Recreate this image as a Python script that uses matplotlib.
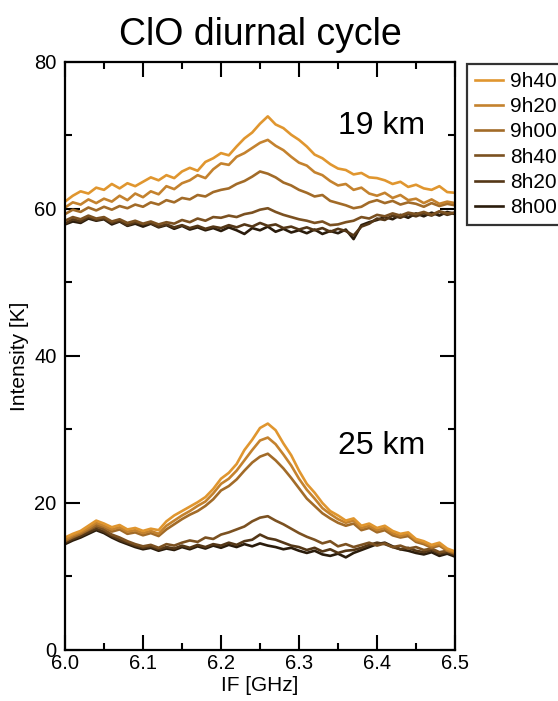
import numpy as np
import matplotlib
matplotlib.use('Agg')
import matplotlib.pyplot as plt
from matplotlib.ticker import MultipleLocator

plt.rcParams['font.family'] = ['Liberation Sans', 'DejaVu Sans']

# IF frequency grid [GHz]
freq = np.round(np.arange(6.0, 6.5001, 0.01), 2)

labels = ['9h40', '9h20', '9h00', '8h40', '8h20', '8h00']
colors = ['#E0962F', '#C4822E', '#A26B28', '#7B5121', '#543717', '#2A1C0C']

# 19 km spectra [K]
t19_0940 = [61.0, 61.8, 62.4, 62.1, 62.9, 62.6, 63.4, 62.8, 63.5, 63.1,
            63.7, 64.3, 63.9, 64.6, 64.2, 65.1, 65.6, 65.2, 66.4, 66.9,
            67.6, 67.3, 68.5, 69.6, 70.4, 71.6, 72.6, 71.5, 71.0, 70.1,
            69.4, 68.5, 67.4, 66.9, 66.1, 65.5, 65.3, 64.7, 64.9, 64.3,
            64.2, 63.9, 63.4, 63.7, 63.0, 63.3, 62.8, 62.6, 63.1, 62.3,
            62.2]
t19_0920 = [60.2, 60.9, 60.6, 61.3, 60.8, 61.4, 61.0, 61.8, 61.2, 62.1,
            61.6, 62.4, 62.0, 63.1, 62.7, 63.5, 63.9, 64.6, 64.2, 65.4,
            66.2, 66.0, 67.1, 67.6, 68.3, 69.0, 69.4, 68.6, 68.0, 67.1,
            66.3, 65.9, 65.0, 64.6, 63.8, 63.2, 63.4, 62.6, 62.9, 62.1,
            61.8, 62.2, 61.5, 61.9, 61.2, 61.4, 60.8, 61.3, 60.7, 61.0,
            60.8]
t19_0900 = [59.3, 59.9, 59.6, 60.2, 59.8, 60.3, 59.9, 60.4, 60.1, 60.6,
            60.3, 60.9, 60.6, 61.2, 60.9, 61.5, 61.3, 61.9, 61.7, 62.3,
            62.6, 62.8, 63.4, 63.8, 64.4, 65.1, 64.8, 64.3, 63.6, 63.2,
            62.6, 62.2, 61.7, 61.9, 61.1, 60.8, 60.5, 60.1, 60.3, 60.9,
            61.2, 60.8, 61.1, 60.6, 60.9, 60.7, 60.3, 60.8, 60.4, 60.7,
            60.5]
t19_0840 = [58.4, 58.9, 58.6, 59.1, 58.7, 58.9, 58.3, 58.6, 58.1, 58.4,
            58.0, 58.3, 57.9, 58.2, 58.0, 58.5, 58.2, 58.7, 58.4, 58.9,
            58.8, 59.1, 58.9, 59.3, 59.5, 59.9, 60.1, 59.6, 59.2, 58.9,
            58.6, 58.4, 58.1, 58.3, 57.8, 57.9, 58.2, 58.4, 58.9, 58.7,
            59.2, 59.0, 59.4, 59.1, 59.5, 59.3, 59.6, 59.2, 59.7, 59.4,
            59.5]
t19_0820 = [58.0, 58.6, 58.3, 58.9, 58.5, 58.7, 58.1, 58.4, 57.8, 58.2,
            57.9, 58.1, 57.6, 57.9, 57.5, 57.8, 57.4, 57.7, 57.3, 57.6,
            57.4, 57.8, 57.5, 57.9, 57.6, 58.1, 57.7, 57.9, 57.4, 57.6,
            57.2, 57.5, 57.1, 57.4, 56.9, 57.3, 57.0, 56.4, 57.6, 58.0,
            58.7, 58.5, 59.1, 58.8, 59.3, 59.0, 59.4, 59.1, 59.6, 59.2,
            59.5]
t19_0800 = [57.9, 58.3, 58.1, 58.7, 58.4, 58.6, 57.9, 58.3, 57.7, 58.0,
            57.6, 58.0, 57.5, 57.8, 57.3, 57.7, 57.2, 57.5, 57.1, 57.4,
            57.0, 57.5, 57.1, 56.6, 57.4, 57.1, 57.6, 56.9, 57.3, 56.8,
            57.1, 56.7, 57.2, 56.6, 57.0, 56.7, 57.2, 55.9, 57.8, 58.2,
            58.5, 58.9, 58.6, 59.2, 58.8, 59.4, 59.0, 59.5, 59.1, 59.6,
            59.3]

# 25 km spectra [K]
t25_0940 = [15.3, 15.8, 16.2, 16.9, 17.6, 17.2, 16.7, 17.0, 16.4, 16.6,
            16.2, 16.5, 16.3, 17.5, 18.3, 18.9, 19.5, 20.1, 20.8, 21.9,
            23.3, 24.1, 25.3, 27.2, 28.6, 30.2, 30.8, 29.9, 28.1, 26.5,
            24.4, 22.6, 21.4, 20.0, 18.9, 18.3, 17.6, 17.9, 16.9, 17.2,
            16.6, 16.9, 16.2, 15.8, 16.0, 15.1, 14.8, 14.3, 14.6, 13.8,
            13.4]
t25_0920 = [15.0, 15.6, 16.0, 16.6, 17.3, 16.9, 16.4, 16.7, 16.1, 16.3,
            15.9, 16.2, 15.8, 16.9, 17.6, 18.3, 18.9, 19.6, 20.2, 21.3,
            22.6, 23.3, 24.4, 25.8, 27.2, 28.5, 28.9, 28.0, 26.6, 25.1,
            23.3, 21.8, 20.6, 19.3, 18.5, 17.8, 17.3, 17.6, 16.6, 16.9,
            16.3, 16.6, 15.9, 15.5, 15.8, 14.9, 14.6, 14.1, 14.4, 13.6,
            13.3]
t25_0900 = [14.8, 15.4, 15.8, 16.4, 17.0, 16.7, 16.1, 16.4, 15.8, 16.0,
            15.6, 15.9, 15.5, 16.4, 17.1, 17.8, 18.4, 18.9, 19.6, 20.5,
            21.7, 22.3, 23.2, 24.4, 25.5, 26.3, 26.7, 25.8, 24.7, 23.4,
            22.0, 20.6, 19.6, 18.6, 17.9, 17.3, 16.9, 17.2, 16.3, 16.6,
            16.0, 16.3, 15.6, 15.3, 15.5, 14.7, 14.4, 13.9, 14.2, 13.5,
            13.1]
t25_0840 = [14.9, 15.3, 15.8, 16.3, 16.8, 16.4, 15.7, 15.3, 14.8, 14.4,
            14.1, 14.3, 13.9, 14.4, 14.2, 14.6, 14.9, 14.7, 15.3, 15.1,
            15.7, 16.0, 16.4, 16.8, 17.5, 18.0, 18.2, 17.6, 17.1, 16.5,
            15.9, 15.4, 15.0, 14.5, 14.8, 14.1, 14.4, 14.0, 14.3, 14.6,
            14.2, 14.5, 14.0, 14.2, 13.8, 14.0, 13.6, 13.8, 13.3, 13.5,
            13.2]
t25_0820 = [14.6, 15.1, 15.5, 16.0, 16.5, 16.1, 15.5, 15.0, 14.6, 14.2,
            13.9, 14.1, 13.7, 14.0, 13.8, 14.2, 13.9, 14.3, 14.0, 14.4,
            14.2, 14.6, 14.3, 14.8, 15.0, 15.7, 15.2, 15.0, 14.6, 14.2,
            14.0, 13.6, 13.9, 13.4, 13.7, 13.2, 13.5, 13.6, 13.9, 14.3,
            14.6, 14.4, 14.0, 13.7, 13.9, 13.5, 13.3, 13.6, 13.1, 13.3,
            12.9]
t25_0800 = [14.4, 14.9, 15.3, 15.8, 16.3, 15.9, 15.3, 14.8, 14.4, 14.0,
            13.7, 13.9, 13.5, 13.8, 13.6, 14.0, 13.7, 14.1, 13.8, 14.2,
            13.9, 14.3, 14.0, 14.4, 14.1, 14.5, 14.2, 14.0, 13.7, 13.9,
            13.5, 13.2, 13.5, 13.0, 12.8, 13.1, 12.6, 13.2, 13.6, 14.0,
            14.4, 14.6, 14.1, 13.7, 13.5, 13.2, 13.0, 13.3, 12.8, 13.1,
            12.7]

spec19 = [t19_0940, t19_0920, t19_0900, t19_0840, t19_0820, t19_0800]
spec25 = [t25_0940, t25_0920, t25_0900, t25_0840, t25_0820, t25_0800]

fig = plt.figure(figsize=(5.58, 7.01), dpi=100)
ax = fig.add_axes([0.1165, 0.0728, 0.6989, 0.8388])

# draw darkest (earliest) first so the orange curves sit on top
for i in reversed(range(6)):
    ax.plot(freq, spec19[i], color=colors[i], lw=1.9, label=labels[i])
    ax.plot(freq, spec25[i], color=colors[i], lw=1.9)

ax.set_xlim(6.0, 6.5)
ax.set_ylim(0, 80)
ax.xaxis.set_major_locator(MultipleLocator(0.1))
ax.xaxis.set_minor_locator(MultipleLocator(0.05))
ax.yaxis.set_major_locator(MultipleLocator(20))
ax.yaxis.set_minor_locator(MultipleLocator(10))
ax.xaxis.set_major_formatter(plt.FormatStrFormatter('%.1f'))
ax.tick_params(which='both', direction='in', top=True, right=True, width=1.5)
ax.tick_params(which='major', length=11, labelsize=14.5)
ax.tick_params(which='minor', length=5)
ax.tick_params(axis='x', pad=3)
ax.tick_params(axis='y', pad=6)
for sp in ax.spines.values():
    sp.set_linewidth(1.6)

ax.set_xlabel('IF [GHz]', fontsize=15, labelpad=2)
ax.set_ylabel('Intensity [K]', fontsize=15, labelpad=4)
ax.set_title('ClO diurnal cycle', fontsize=27, pad=12)

ax.text(6.462, 71.3, '19 km', fontsize=23, ha='right', va='center')
ax.text(6.462, 27.8, '25 km', fontsize=23, ha='right', va='center')

handles, labs = ax.get_legend_handles_labels()
leg = fig.legend(handles[::-1], labs[::-1], loc='upper left',
                 bbox_to_anchor=(467 / 558, 1 - 64 / 701), fontsize=15,
                 frameon=True, fancybox=False, borderaxespad=0,
                 handlelength=1.35, handletextpad=0.35, labelspacing=0.3,
                 borderpad=0.38)
leg.get_frame().set_edgecolor('black')
leg.get_frame().set_linewidth(1.6)

fig.savefig('out.png', dpi=100)
